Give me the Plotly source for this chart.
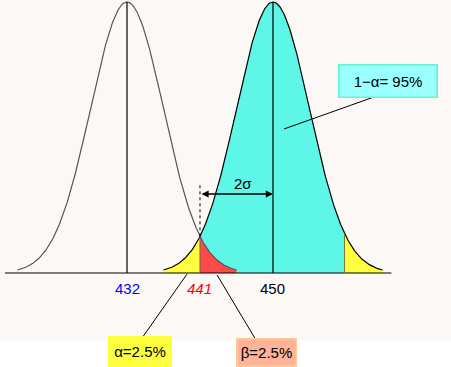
import numpy as np
import plotly.graph_objects as go

# ---- data ----
means = [432, 450]          # null mean (left), alternative mean (right)
sigma = 4.5
critical = 441              # decision cut-off
upper_critical = 450 + 1.96 * sigma
tick_values = [432, 441, 450]
tick_labels = ["432", "441", "450"]
tick_colors = ["#0000FF", "#FF0000", "#000000"]
box_texts = ["1\u2212\u03b1= 95%", "\u03b1=2.5%", "\u03b2=2.5%"]
span_sigmas = 3.0

def pdf(x, mu):
    return np.exp(-0.5 * ((x - mu) / sigma) ** 2)   # normalised so the peak is 1

def area(x0, x1, mu, n=120):
    xs = np.linspace(x0, x1, n)
    ys = pdf(xs, mu)
    px = np.concatenate([[x0], xs, [x1]])
    py = np.concatenate([[0], ys, [0]])
    return px, py

mL, mR = means
fig = go.Figure()

# filled areas
cx, cy = area(critical, upper_critical, mR)
fig.add_trace(go.Scatter(x=cx, y=cy, fill="toself", fillcolor="#5EF6E6",
                         line=dict(width=0), mode="lines", hoverinfo="skip"))
yx, yy = area(mR - span_sigmas * sigma, critical, mR)
fig.add_trace(go.Scatter(x=yx, y=yy, fill="toself", fillcolor="#FFFF40",
                         line=dict(width=0), mode="lines", hoverinfo="skip"))
yx2, yy2 = area(upper_critical, mR + span_sigmas * sigma, mR)
fig.add_trace(go.Scatter(x=yx2, y=yy2, fill="toself", fillcolor="#FFFF40",
                         line=dict(width=0), mode="lines", hoverinfo="skip"))
rx, ry = area(critical, mL + span_sigmas * sigma, mL)
fig.add_trace(go.Scatter(x=rx, y=ry, fill="toself", fillcolor="#FF4A4A",
                         line=dict(width=0), mode="lines", hoverinfo="skip"))

# curves
xl = np.linspace(mL - span_sigmas * sigma, mL + span_sigmas * sigma, 400)
fig.add_trace(go.Scatter(x=xl, y=pdf(xl, mL), mode="lines",
                         line=dict(color="#555555", width=1.2), hoverinfo="skip"))
xr = np.linspace(mR - span_sigmas * sigma, mR + span_sigmas * sigma, 400)
fig.add_trace(go.Scatter(x=xr, y=pdf(xr, mR), mode="lines",
                         line=dict(color="#000000", width=1.2), hoverinfo="skip"))

# baseline
fig.add_trace(go.Scatter(x=[416.96, 464.6], y=[0, 0], mode="lines",
                         line=dict(color="#000000", width=1.2), hoverinfo="skip"))
# mean lines
for m in means:
    fig.add_trace(go.Scatter(x=[m, m], y=[0, 1], mode="lines",
                             line=dict(color="#000000", width=1.2), hoverinfo="skip"))
# boundaries
fig.add_trace(go.Scatter(x=[critical, critical], y=[0, pdf(critical, mR)], mode="lines",
                         line=dict(color="#666666", width=1), hoverinfo="skip"))
fig.add_trace(go.Scatter(x=[upper_critical, upper_critical], y=[0, pdf(upper_critical, mR)],
                         mode="lines", line=dict(color="#7A7A20", width=1), hoverinfo="skip"))
# dotted line
fig.add_trace(go.Scatter(x=[critical, critical], y=[pdf(critical, mR), 0.325], mode="lines",
                         line=dict(color="#000000", width=1, dash="dot"), hoverinfo="skip"))
# callout lines
fig.add_trace(go.Scatter(x=[462.45, 451.36], y=[0.6494, 0.5314], mode="lines",
                         line=dict(color="#000000", width=1), hoverinfo="skip"))
fig.add_trace(go.Scatter(x=[439.40, 433.85], y=[-0.004, -0.2399], mode="lines",
                         line=dict(color="#000000", width=1), hoverinfo="skip"))
fig.add_trace(go.Scatter(x=[443.10, 447.90], y=[-0.007, -0.2472], mode="lines",
                         line=dict(color="#000000", width=1), hoverinfo="skip"))

font = "Liberation Sans, Arial, sans-serif"
ann = []
# 2 sigma arrow
ann.append(dict(x=mR, y=0.2915, ax=critical, ay=0.2915, xref="x", yref="y",
                axref="x", ayref="y", text="", showarrow=True, arrowhead=2,
                startarrowhead=2, arrowside="end+start", arrowsize=1.1,
                arrowwidth=1.3, arrowcolor="#000000", standoff=0, startstandoff=0))
ann.append(dict(x=446.3, y=0.33, xref="x", yref="y", text="2\u03c3", showarrow=False,
                font=dict(family=font, size=15, color="#000000")))
# tick labels
for v, t, c in zip(tick_values, tick_labels, tick_colors):
    txt = "<i>" + t + "</i>" if c == "#FF0000" else t
    ann.append(dict(x=v, y=-0.056, xref="x", yref="y", text=txt, showarrow=False,
                    font=dict(family=font, size=15, color=c)))
# boxes
ann.append(dict(x=464.24, y=0.7103, xref="x", yref="y", text=box_texts[0], showarrow=False,
                width=95, height=29, bgcolor="#99FFFF", bordercolor="#66F2CC",
                borderwidth=1.5, font=dict(family=font, size=15, color="#000000")))
ann.append(dict(x=433.6, y=-0.2915, xref="x", yref="y", text=box_texts[1], showarrow=False,
                width=60, height=27, bgcolor="#FFFF40", bordercolor="#FFFF40",
                borderwidth=1, font=dict(family=font, size=15, color="#000000")))
ann.append(dict(x=449.14, y=-0.2952, xref="x", yref="y", text=box_texts[2], showarrow=False,
                width=56, height=24, bgcolor="#FFB399", bordercolor="#FFCC99",
                borderwidth=1.5, font=dict(family=font, size=15, color="#000000")))

fig.update_layout(
    width=451, height=367,
    margin=dict(l=0, r=0, t=0, b=0),
    paper_bgcolor="#FFFFFF",
    plot_bgcolor="rgba(0,0,0,0)",
    showlegend=False,
    xaxis=dict(range=[416.34, 471.95], visible=False, fixedrange=True),
    yaxis=dict(range=[-0.3469, 1.00738], visible=False, fixedrange=True),
    annotations=ann,
    shapes=[dict(type="rect", xref="paper", yref="paper", x0=0, x1=1,
                 y0=1 - 341 / 367, y1=1, fillcolor="#FCF8F5", line=dict(width=0),
                 layer="below")],
)

fig.write_html("out.html", config={"displayModeBar": False},
               post_script="document.body.style.margin='0';document.body.style.overflow='hidden';")
